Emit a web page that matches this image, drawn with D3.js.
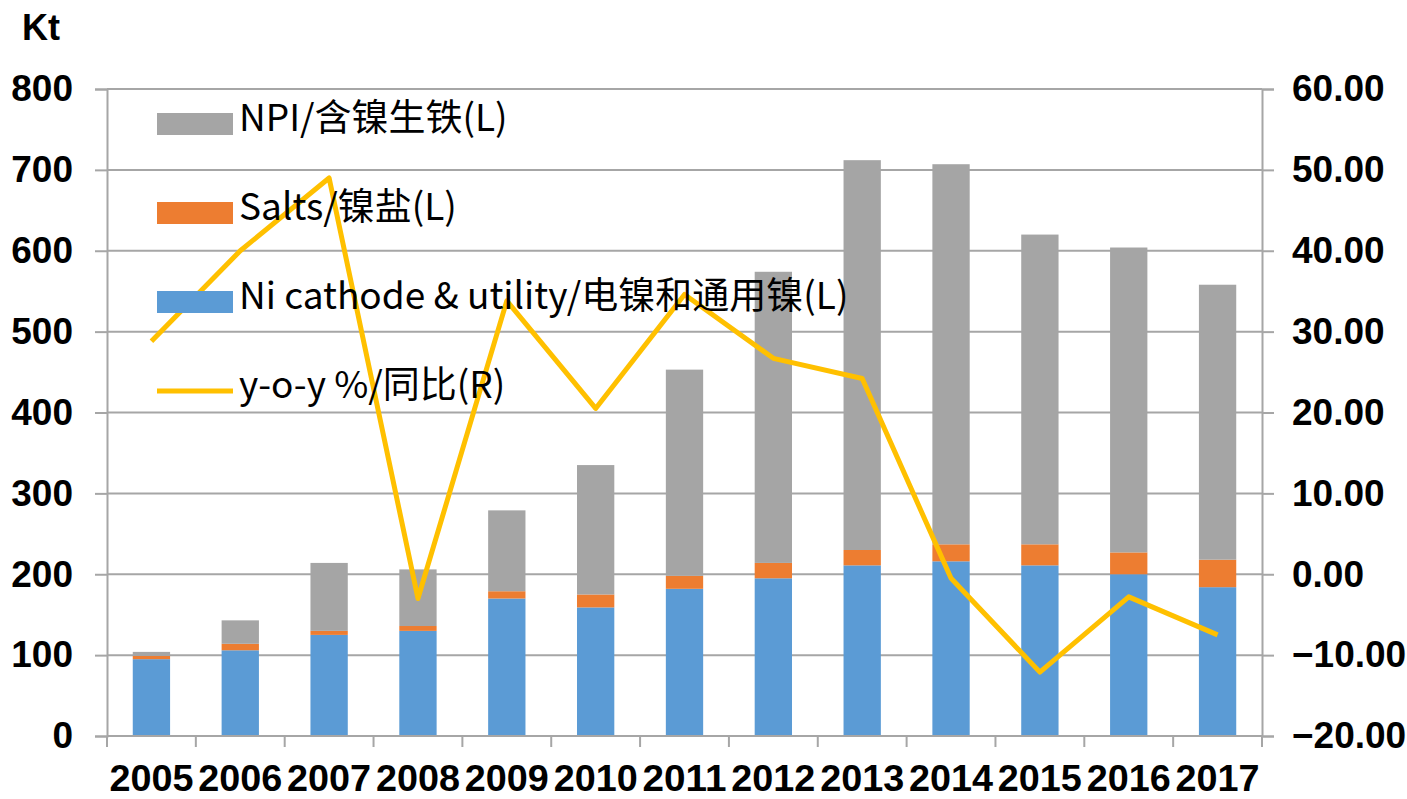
<!DOCTYPE html>
<html>
  <head>
    <meta http-equiv="Content-Type" content="text/html;charset=utf-8"/>
    <title>Nickel consumption</title>
    <script src="https://d3js.org/d3.v7.min.js"></script>
  </head>
  <body style="margin:0;background:#fff">

    <style>
    .tick-label {
      font-family: "Liberation Sans", Arial, sans-serif;
      font-weight: bold;
      fill: #000;
    }
    .legend text {
      font-family: "Noto Sans CJK SC", "Noto Sans", sans-serif;
      font-size: 36px;
      fill: #000;
    }
    </style>
    <script type="text/javascript">
        // values
        const years = ['2005','2006','2007','2008','2009','2010','2011','2012','2013','2014','2015','2016','2017']
        const cathode = [95, 106, 125, 130, 170, 159, 182, 195, 211, 216, 211, 200, 184]
        const salts = [4, 8, 5, 6, 9, 16, 16, 19, 19, 21, 26, 27, 34]
        const npi = [5, 29, 84, 70, 100, 160, 255, 360, 482, 470, 383, 377, 340]
        const yoy = [28.8, 40.0, 49.0, -3.0, 33.8, 20.5, 34.6, 26.7, 24.2, -0.5, -12.1, -2.8, -7.5]
        const leftTicks = [0, 100, 200, 300, 400, 500, 600, 700, 800]
        const rightTicks = [-20, -10, 0, 10, 20, 30, 40, 50, 60]

        const width = 1407,
              height = 799
        const plotL = 107, plotR = 1262, plotT = 89, plotB = 736

        const svg = d3.select('body').append('svg')
            .attr('width', width)
            .attr('height', height)

        const x = d3.scaleBand()
            .domain(years)
            .range([plotL, plotR])
            .paddingInner(0.58)
            .paddingOuter(0.29)

        const y = d3.scaleLinear().domain([0, 800]).range([plotB, plotT])
        const y2 = d3.scaleLinear().domain([-20, 60]).range([plotB, plotT])

        const gridColor = '#a6a6a6'

        // grid lines
        svg.append('g')
            .selectAll('line')
            .data(leftTicks)
            .enter()
            .append('line')
            .attr('x1', plotL)
            .attr('x2', plotR)
            .attr('y1', d => y(d))
            .attr('y2', d => y(d))
            .attr('stroke', gridColor)
            .attr('stroke-width', 2)

        // left axis
        const yAxis = svg.append('g')
            .attr('transform', 'translate(' + plotL + ',0)')
            .call(d3.axisLeft(y).tickValues(leftTicks).tickSize(12).tickPadding(22))
        yAxis.select('.domain').attr('stroke', gridColor).attr('stroke-width', 2)
        yAxis.selectAll('.tick line').attr('stroke', gridColor).attr('stroke-width', 2)
        yAxis.selectAll('.tick text')
            .attr('class', 'tick-label')
            .style('font-size', '37px')

        // right axis
        const yAxis2 = svg.append('g')
            .attr('transform', 'translate(' + plotR + ',0)')
            .call(d3.axisRight(y2).tickValues(rightTicks).tickSize(12).tickPadding(18).tickFormat(d3.format('.2f')))
        yAxis2.select('.domain').attr('stroke', gridColor).attr('stroke-width', 2)
        yAxis2.selectAll('.tick line').attr('stroke', gridColor).attr('stroke-width', 2)
        yAxis2.selectAll('.tick text')
            .attr('class', 'tick-label')
            .style('font-size', '37px')

        // stacked bars
        const rows = years.map((yr, i) => ({year: yr, cathode: cathode[i], salts: salts[i], npi: npi[i]}))
        const keys = ['cathode', 'salts', 'npi']
        const colors = {cathode: '#5b9bd5', salts: '#ed7d31', npi: '#a5a5a5'}
        const stacked = d3.stack().keys(keys)(rows)

        svg.append('g')
            .selectAll('g')
            .data(stacked)
            .enter()
            .append('g')
            .attr('fill', d => colors[d.key])
            .selectAll('rect')
            .data(d => d)
            .enter()
            .append('rect')
            .attr('x', d => x(d.data.year))
            .attr('width', x.bandwidth())
            .attr('y', d => y(d[1]))
            .attr('height', d => y(d[0]) - y(d[1]))

        // bottom axis
        const xAxis = svg.append('g')
            .attr('transform', 'translate(0,' + plotB + ')')
        xAxis.append('line')
            .attr('x1', plotL).attr('x2', plotR)
            .attr('stroke', gridColor).attr('stroke-width', 2)
        const step = x.step()
        const bounds = d3.range(years.length + 1).map(i => plotL + i * step)
        xAxis.selectAll('.xt')
            .data(bounds)
            .enter()
            .append('line')
            .attr('x1', d => d).attr('x2', d => d)
            .attr('y1', 0).attr('y2', 11)
            .attr('stroke', gridColor).attr('stroke-width', 2)
        xAxis.selectAll('text')
            .data(years)
            .enter()
            .append('text')
            .attr('class', 'tick-label')
            .attr('x', d => x(d) + x.bandwidth() / 2)
            .attr('y', 55)
            .attr('text-anchor', 'middle')
            .attr('textLength', 84)
            .attr('lengthAdjust', 'spacingAndGlyphs')
            .style('font-size', '37px')
            .text(d => d)

        // y-o-y line
        const line = d3.line()
            .x((d, i) => x(years[i]) + x.bandwidth() / 2)
            .y(d => y2(d))

        svg.append('path')
            .datum(yoy)
            .attr('d', line)
            .attr('fill', 'none')
            .attr('stroke', '#ffc000')
            .attr('stroke-width', 5)
            .attr('stroke-linejoin', 'round')

        // unit label
        svg.append('text')
            .attr('class', 'tick-label')
            .attr('x', 22)
            .attr('y', 40)
            .style('font-size', '36px')
            .text('Kt')

        // legend
        const legendItems = [
            {name: 'NPI/含镍生铁(L)', color: '#a5a5a5', type: 'rect'},
            {name: 'Salts/镍盐(L)', color: '#ed7d31', type: 'rect'},
            {name: 'Ni cathode & utility/电镍和通用镍(L)', color: '#5b9bd5', type: 'rect'},
            {name: 'y-o-y %/同比(R)', color: '#ffc000', type: 'line'}
        ]
        const legend = svg.append('g').attr('class', 'legend')
        const item = legend.selectAll('g')
            .data(legendItems)
            .enter()
            .append('g')
            .attr('transform', (d, i) => 'translate(157,' + (124 + i * 89) + ')')
        item.filter(d => d.type === 'rect')
            .append('rect')
            .attr('x', 0).attr('y', -11)
            .attr('width', 76).attr('height', 22)
            .attr('fill', d => d.color)
        item.filter(d => d.type === 'line')
            .append('line')
            .attr('x1', 0).attr('x2', 76)
            .attr('stroke', d => d.color)
            .attr('stroke-width', 5)
        item.append('text')
            .attr('x', 82)
            .attr('y', 7)
            .style('font-size', '37px')
            .text(d => d.name)
    </script>

  </body>
</html>
